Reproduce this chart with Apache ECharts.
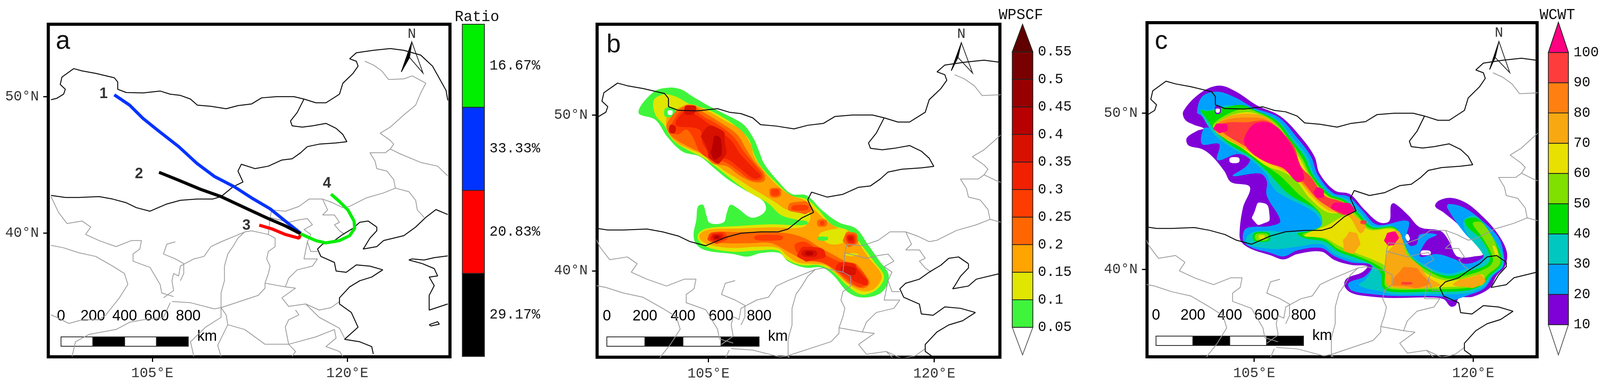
<!DOCTYPE html>
<html>
<head>
<meta charset="utf-8">
<title>Ratio WPSCF WCWT</title>
<script src="https://cdn.jsdelivr.net/npm/echarts@6/dist/echarts.min.js"></script>
<style>
  html, body { margin: 0; background: #fff; overflow: hidden; }
  #chart { width: 100vw; height: 100vh; }
</style>
</head>
<body>
<div id="chart"></div>
<script>
// ---- base map, lon/lat ----
const borderLines = [
  [[97.21,49.77],[97.66,49.88],[98.18,50.18],[98.31,50.54],[97.92,50.89],[98.05,51.43],[98.96,52.05],[99.61,51.88],[100.65,51.70],[102.08,51.38],[102.34,51.07],[102.34,50.54],[103.0,50.30],[104.30,50.27],[105.60,50.41],[106.38,50.18],[107.16,50.09],[107.94,49.82],[108.46,49.38],[109.51,49.29],[110.68,49.11],[111.59,49.34],[112.63,49.46],[113.41,49.91],[114.58,50.0],[115.89,50.0],[116.67,49.82],[117.58,49.55],[118.36,49.55],[119.40,50.18],[119.66,50.98],[120.44,51.70],[120.83,52.23],[120.70,52.59],[120.18,52.77],[120.70,53.21],[122.0,53.39],[123.31,53.52],[124.35,53.39],[125.65,53.04],[126.56,52.23],[127.08,51.34],[127.6,50.45],[127.73,49.73]],
  [[116.67,49.82],[116.15,48.84],[115.63,48.21],[115.76,47.86],[116.54,47.77],[117.32,47.86],[118.36,48.04],[119.14,47.68],[119.66,47.23],[119.97,46.70],[119.14,46.61],[117.84,46.52],[116.93,46.34],[116.41,45.89],[115.76,45.45],[114.97,45.36],[113.93,44.91],[112.89,44.73],[111.85,45.05],[111.59,44.55],[111.98,43.75],[111.2,43.39],[110.29,42.68],[109.64,42.50],[108.46,42.50],[107.16,42.41],[106.12,42.14],[104.82,41.61],[103.78,41.87],[103.0,42.23],[101.95,42.50],[100.91,42.68],[99.35,42.62],[98.31,42.62],[97.21,42.77]],
  [[122.27,40.45],[121.61,40.89],[120.96,40.80],[120.44,40.36],[119.66,39.91],[119.01,39.46],[118.10,39.20],[117.71,38.84],[117.97,38.30],[119.01,37.86],[119.14,37.23],[119.92,37.14],[120.70,37.68],[121.74,37.59],[122.73,37.32],[121.88,36.79],[120.96,36.52],[120.18,36.07],[119.40,35.27],[119.40,34.82],[120.31,34.20],[120.83,33.12],[119.79,32.23],[120.96,32.05],[121.88,31.70],[122.0,31.16]],
  [[122.27,40.45],[122.27,40.18],[121.74,39.64],[121.35,39.02],[121.22,38.84],[122.27,39.02],[122.79,39.46],[124.35,39.82],[125.26,40.45],[126.04,41.16],[126.82,41.73],[127.73,41.37]],
  [[127.73,38.34],[126.69,38.21],[125.91,38.04],[125.0,38.12],[124.74,38.04],[125.78,37.77],[126.69,37.41],[126.95,36.87],[126.30,36.79],[126.69,36.16],[126.30,35.45],[126.30,34.37],[127.73,34.82]],
  [[126.30,33.30],[126.95,33.52],[127.08,33.34],[126.43,33.21],[126.30,33.30]]
];
const provinceLines = [
  [[121.35,52.59],[122.0,52.32],[122.66,51.88],[123.18,51.25],[124.35,51.30],[125.0,51.52],[126.04,50.98],[125.65,50.27],[125.26,49.38],[124.35,48.66],[123.31,47.77],[122.53,47.32],[123.31,46.79],[123.57,46.52],[123.31,46.16],[122.92,45.89],[121.74,45.89],[122.14,45.27],[122.27,44.73],[123.05,44.55],[123.57,43.93],[123.70,43.30],[122.79,42.95],[121.48,42.59],[120.18,41.96],[119.66,41.87],[118.88,42.23],[118.10,42.50],[117.06,42.50],[116.28,41.96],[115.23,41.61],[114.19,41.70]],
  [[123.31,46.16],[124.09,45.80],[125.65,45.18],[126.95,44.91],[127.73,44.20]],
  [[123.70,43.30],[124.74,43.04],[125.26,42.41],[125.39,41.70],[125.91,41.16]],
  [[118.10,42.50],[118.49,41.70],[118.10,41.34],[119.01,41.34],[119.40,40.80],[119.01,40.62],[119.40,40.18],[119.79,39.91]],
  [[114.19,41.70],[114.06,41.16],[115.49,40.80],[116.28,40.98],[116.93,41.07],[117.32,40.62],[116.67,40.27],[117.19,39.91],[116.93,39.37],[117.19,38.66],[117.71,38.66]],
  [[116.93,39.37],[116.67,38.12],[117.71,38.12],[117.32,37.59],[116.15,37.32],[115.49,36.70],[115.23,36.07]],
  [[114.06,41.16],[113.93,39.91],[114.45,39.64],[114.45,39.02],[113.93,38.66],[113.80,38.12],[114.06,37.59],[113.93,37.05],[113.67,36.34]],
  [[113.67,36.34],[115.23,36.07],[116.02,35.98],[114.97,35.27],[115.49,34.64],[116.80,34.82],[117.84,34.37],[118.75,34.55],[119.40,35.0]],
  [[113.67,36.34],[113.67,35.98],[113.15,35.45],[110.29,34.55]],
  [[113.93,39.91],[112.63,40.18],[112.11,40.09],[111.59,39.64],[111.20,39.02],[110.81,38.48],[110.55,37.59],[110.55,36.52],[110.29,35.62],[110.29,34.55],[110.68,34.02],[110.81,33.30],[112.11,32.95],[113.67,31.87],[115.49,31.87],[116.02,31.34],[115.76,30.98]],
  [[112.11,40.09],[110.29,39.37],[109.51,39.02],[108.98,38.30],[108.20,38.12],[107.16,37.59],[107.03,36.87],[106.64,37.05],[106.51,36.52],[106.64,35.80],[105.86,35.27]],
  [[106.77,39.37],[106.12,39.20],[105.86,38.48],[106.77,38.12],[107.42,37.77],[107.42,37.05],[107.16,36.52]],
  [[97.21,42.68],[97.79,41.52],[98.44,40.71],[99.61,40.89],[100.26,40.45],[99.87,39.91],[100.91,39.46],[102.21,39.02],[103.39,39.46],[104.17,39.46],[104.04,38.84],[103.52,38.48],[103.52,37.95],[104.82,37.5],[105.60,36.25],[105.73,35.62],[106.64,35.36]],
  [[97.21,39.11],[98.18,38.93],[99.35,38.57],[100.65,38.30],[101.95,37.59],[102.86,37.05],[103.12,36.25],[102.47,35.27],[101.43,34.02],[100.91,33.66],[99.61,33.66],[98.57,33.39],[97.66,33.84],[97.21,34.02]],
  [[106.38,34.91],[105.86,33.84],[104.30,33.66],[103.26,33.48],[102.21,32.95],[100.13,32.59],[99.09,32.05],[98.83,30.98]],
  [[106.51,35.0],[107.94,34.91],[109.77,34.46],[110.29,34.55],[110.29,33.84],[109.11,33.13],[107.94,32.05],[108.20,30.98]],
  [[115.49,31.87],[115.23,33.13],[115.49,33.66],[116.28,34.02],[116.02,34.38]],
  [[116.80,34.82],[117.84,33.84],[119.40,33.04],[119.79,32.32]],
  [[110.81,33.30],[110.03,31.79],[110.29,30.98]],
  [[115.49,31.87],[117.58,32.41],[119.01,32.95],[119.14,32.32],[118.36,31.70],[119.40,31.34],[119.66,30.98]]
];

// ---- panel a ----
const track1 = [[102.08,50.13],[103.25,49.38],[104.30,48.39],[105.47,47.50],[107.03,46.34],[108.46,45.09],[109.77,44.16],[111.33,43.39],[112.63,42.59],[114.06,41.79],[115.23,40.89],[116.41,40.0]];
const track2 = [[105.52,44.46],[106.90,43.93],[108.72,43.21],[110.29,42.68],[112.11,41.87],[113.93,41.07],[115.23,40.54],[116.41,39.96]];
const track3 = [[113.23,40.59],[114.19,40.32],[115.23,39.91],[116.28,39.64],[116.41,39.91]];
const track4 = [[118.75,42.86],[119.40,42.32],[120.05,41.70],[120.52,40.89],[120.57,40.36],[120.18,39.82],[119.40,39.46],[118.36,39.29],[117.58,39.46],[116.93,39.73],[116.41,39.96]];
const trackLabels = [[101.25,50.18,'1'],[103.98,44.32,'2'],[112.24,40.54,'3'],[118.44,43.63,'4']];
const ratioLabels = ['29.17%','20.83%','33.33%','16.67%'];
const ratioColors = ['#000000','#ff0000','#0033ff','#00ee00'];

// ---- panel b, WPSCF filled contours, lon/lat ----
const wpscfTicks = [0.05,0.1,0.15,0.2,0.25,0.3,0.35,0.4,0.45,0.5,0.55];
const wpscfColors = ['#ffffff','#3ff53c','#e0e600','#ffa400','#ff6600','#ff3c00','#f02000','#d81000','#b80000','#980000','#780000','#600000'];
const w05 = [[[100.35,50.16],[101.36,51.49],[102.38,51.76],[103.17,51.65],[103.96,51.18],[105.09,50.55],[106.22,50.0],[107.35,49.37],[108.03,48.43],[108.37,47.65],[108.70,46.87],[109.61,45.77],[110.51,44.94],[111.53,44.83],[112.54,43.89],[113.67,43.10],[114.80,42.71],[115.59,41.69],[116.38,40.60],[116.95,39.81],[116.84,39.03],[116.27,38.48],[115.14,38.29],[114.24,38.64],[113.34,39.66],[112.54,40.20],[111.42,40.20],[110.29,40.60],[109.72,41.14],[108.48,41.14],[107.58,40.91],[106.67,41.07],[104.86,41.30],[104.19,41.69],[104.01,42.32],[104.19,43.26],[104.30,44.12],[104.64,44.23],[104.86,43.57],[105.09,43.07],[105.99,43.10],[106.22,43.73],[106.45,44.23],[106.90,44.04],[107.80,43.42],[108.48,43.57],[108.82,43.97],[108.59,44.51],[107.35,45.22],[106.22,45.92],[105.32,46.63],[104.41,47.34],[103.28,47.65],[102.27,48.59],[101.48,49.69]]];
const w10 = [[[101.36,50.94],[102.04,51.33],[102.83,51.18],[103.74,50.71],[104.86,50.39],[105.99,49.84],[106.90,49.22],[107.69,48.43],[108.03,47.49],[108.48,46.71],[109.38,45.77],[110.51,44.83],[111.53,44.59],[112.32,43.89],[113.22,42.95],[114.35,42.55],[115.26,41.54],[116.05,40.52],[116.61,39.81],[116.61,39.34],[116.05,38.71],[115.14,38.48],[114.24,39.03],[113.22,39.97],[112.32,40.36],[111.19,40.36],[110.17,40.75],[109.61,41.30],[108.25,41.30],[106.67,41.22],[105.09,41.46],[104.41,41.85],[104.30,42.32],[104.86,42.71],[106.90,42.87],[109.16,42.98],[111.19,42.95],[111.53,43.18],[110.96,43.26],[109.83,43.57],[108.93,44.36],[107.80,44.98],[106.67,45.77],[105.66,46.55],[104.64,47.26],[103.51,47.81],[102.61,48.43],[102.04,49.37],[101.48,50.0]]];
const w15 = [[[102.27,50.0],[103.06,50.47],[103.74,50.71],[104.86,50.31],[105.99,49.69],[107.12,49.06],[107.80,48.12],[108.03,47.34],[108.70,46.39],[109.61,45.45],[110.51,44.83],[111.42,44.51],[112.09,43.89],[112.77,43.26],[113.67,42.71],[114.35,42.55],[115.14,41.54],[115.71,40.75],[116.38,39.97],[116.5,39.5],[115.93,38.79],[115.14,38.71],[114.24,39.19],[113.22,40.05],[112.77,40.36],[111.87,40.44],[110.96,40.52],[110.29,40.91],[109.61,41.46],[108.25,41.54],[106.67,41.46],[105.32,41.61],[104.53,41.93],[104.41,42.32],[104.98,42.63],[106.90,42.71],[109.16,42.79],[111.19,42.79],[111.75,43.26],[111.64,43.73],[110.29,43.89],[109.38,44.44],[108.03,45.22],[106.90,45.92],[105.99,46.47],[104.86,47.34],[103.74,47.81],[102.83,48.28],[102.27,49.06]]];
const w15Gaps = [[[112.54,42.48],[113.67,42.71],[114.24,42.55],[114.01,41.85],[113.22,41.69],[112.66,41.93],[112.32,42.24]],[[114.13,41.07],[114.92,41.10],[114.80,40.99],[114.24,40.96]]];
const w15Spots = [[[112.27,42.08],[112.54,42.2],[112.95,42.08],[112.54,41.93]],[[110.74,43.10],[111.53,43.15],[111.53,42.99],[110.74,42.99]],[[102.05,50.19],[102.45,50.5],[102.8,50.19],[102.38,49.85]]];
const wHoles = [[[102.45,50.3],[102.62,50.19],[102.45,50.0],[102.28,50.19]]];
const w20 = [[[102.38,49.69],[103.06,50.39],[103.85,50.63],[104.75,50.13],[105.77,49.53],[106.90,48.75],[107.46,47.88],[108.03,47.02],[108.70,46.24],[108.70,45.77],[108.03,45.69],[107.12,46.08],[106.22,46.71],[105.32,46.87],[104.64,47.49],[103.51,48.04],[102.61,48.59],[102.20,49.22]],[[109.04,45.06],[109.43,45.33],[109.83,45.06],[109.43,44.70]],[[110.29,44.08],[111.08,44.44],[111.75,44.20],[111.75,43.81],[110.96,43.73]],[[112.21,43.07],[112.54,43.31],[112.88,43.07],[112.54,42.82]],[[104.98,42.24],[105.32,42.48],[106.90,42.48],[108.70,42.48],[110.29,42.40],[111.42,42.08],[112.32,41.54],[113.22,41.07],[114.13,40.60],[114.80,40.44],[115.48,39.66],[115.71,39.19],[115.26,38.87],[114.35,39.19],[113.45,39.97],[112.54,40.52],[111.42,40.67],[110.29,41.22],[109.16,41.77],[107.80,41.77],[105.99,41.77],[105.09,41.93]],[[114.01,42.16],[114.46,42.48],[114.92,42.08],[114.58,41.61],[114.13,41.69]]];
const w25 = [[[102.61,49.53],[103.06,50.16],[103.85,50.47],[104.64,49.92],[105.66,49.37],[106.67,48.59],[107.35,47.65],[108.03,46.87],[108.59,46.16],[108.48,45.85],[107.80,45.85],[106.90,46.47],[105.99,47.02],[105.09,47.18],[104.41,47.65],[103.96,48.59],[103.51,49.06],[102.94,48.75],[102.38,49.06]],[[104.98,42.16],[105.54,42.48],[106.22,42.24],[105.88,41.85],[105.2,41.85]],[[108.03,42.13],[108.93,42.32],[109.95,42.13],[108.93,41.93]],[[110.74,41.69],[111.42,41.85],[112.54,41.14],[113.67,40.60],[114.80,40.28],[115.59,39.34],[115.14,38.95],[114.35,39.34],[113.45,40.05],[112.54,40.52],[111.42,40.75],[110.85,41.22]],[[114.13,42.08],[114.46,42.35],[114.80,42.08],[114.53,41.72]],[[109.15,45.06],[109.43,45.25],[109.7,45.06],[109.43,44.8]],[[110.51,44.04],[111.19,44.23],[111.64,44.04],[111.08,43.86]],[[112.4,43.07],[112.54,43.2],[112.7,43.07],[112.54,42.92]]];
const w30 = [[[102.83,49.37],[103.51,50.31],[104.19,50.0],[105.32,49.22],[106.45,48.43],[107.12,47.49],[108.03,46.55],[108.48,46.08],[108.03,45.92],[107.12,46.55],[106.22,47.18],[105.54,47.18],[104.64,48.12],[104.41,49.06]],[[105.14,42.16],[105.54,42.40],[106.04,42.19],[105.72,41.93],[105.27,41.93]],[[110.96,41.14],[111.69,41.54],[112.77,41.07],[111.87,40.67],[111.19,40.75]],[[113.45,40.13],[114.35,40.52],[115.14,39.81],[115.59,39.19],[115.03,39.19],[114.24,39.66]],[[114.2,42.08],[114.46,42.3],[114.7,42.08],[114.53,41.78]]];
const w35 = [[[103.40,50.39],[103.74,50.63],[104.19,50.39],[103.62,50.0]],[[102.38,49.14],[102.61,49.37],[102.83,49.06],[102.56,48.82]],[[104.64,48.90],[105.66,49.14],[106.11,48.12],[105.95,47.18],[105.32,47.02],[104.86,47.96]],[[105.27,42.16],[105.54,42.32],[105.88,42.16],[105.54,41.98]],[[111.19,41.11],[111.69,41.35],[112.21,41.10],[111.69,40.88]],[[113.79,40.13],[114.35,40.28],[114.80,39.97],[114.35,39.73]],[[114.3,42.08],[114.46,42.2],[114.6,42.08],[114.46,41.92]]];
const w40 = [[[105.25,47.96],[105.54,48.67],[105.88,47.81],[105.54,47.18],[105.25,47.34]],[[105.4,42.16],[105.54,42.26],[105.72,42.16],[105.54,42.05]],[[111.42,41.11],[111.69,41.25],[111.95,41.11],[111.69,40.98]]];
// [colour index, polygons], painted in this order
const wpscfSteps = [[1,w05],[2,w10],[3,w15],[2,w15Gaps],[1,w15Spots],[0,wHoles],[4,w20],[5,w25],[6,w30],[7,w35],[8,w40]];

// ---- panel c, WCWT filled contours, lon/lat ----
const wcwtTicks = [10,20,30,40,50,60,70,80,90,100];
const wcwtColors = ['#ffffff','#8000d8','#00a0ff','#00c8c0','#00dc00','#80e000','#e8e000','#f8a810','#ff8010','#ff3c3c','#ff0080'];
const c10 = [[[100.15,50.13],[101.32,51.30],[102.60,51.77],[103.76,51.38],[105.16,50.52],[106.79,49.81],[108.19,48.48],[109.13,47.23],[109.48,46.14],[110.52,45.05],[111.57,44.81],[112.51,43.87],[113.55,43.02],[114.25,43.09],[114.37,44.11],[114.60,44.23],[115.54,43.48],[116.35,42.70],[117.75,42.47],[118.33,41.84],[118.80,40.91],[119.27,40.75],[120.08,40.83],[120.66,40.98],[119.15,42.70],[117.98,43.64],[117.40,44.03],[117.63,44.39],[118.45,44.58],[119.50,44.27],[120.55,43.48],[121.60,42.39],[122.30,41.14],[122.18,40.20],[121.60,39.58],[121.13,38.80],[119.97,38.25],[119.03,38.17],[118.80,37.70],[118.45,37.62],[117.98,38.09],[117.05,38.20],[114.49,38.17],[113.09,38.25],[111.69,38.48],[111.18,38.95],[111.34,39.42],[112.39,39.81],[112.74,40.20],[111.69,40.28],[110.52,40.59],[109.59,41.14],[107.96,40.98],[107.03,40.64],[106.10,40.91],[104.81,41.30],[104.11,41.77],[104.0,42.39],[104.23,43.95],[104.70,45.28],[103.41,45.59],[102.95,46.30],[102.13,47.23],[101.43,47.70],[100.50,47.94],[100.38,48.41],[101.08,48.87],[101.55,49.03],[100.85,49.27],[100.27,49.58]]];
const c20 = [[[101.08,50.05],[101.43,51.06],[102.48,51.38],[103.76,50.98],[104.93,50.36],[106.68,49.73],[107.96,48.41],[108.89,47.23],[109.36,46.06],[110.41,44.89],[111.46,44.66],[112.39,43.80],[113.44,42.86],[115.54,43.09],[115.42,42.0],[115.65,41.53],[116.12,41.61],[116.35,42.23],[117.52,42.23],[116.82,41.84],[116.35,40.83],[117.52,40.98],[118.68,40.67],[119.50,40.36],[120.55,40.67],[120.78,41.14],[119.50,42.23],[118.22,43.95],[118.33,44.19],[119.38,43.95],[120.55,43.17],[121.71,42.08],[122.06,41.14],[122.06,40.20],[121.36,39.58],[120.78,38.80],[119.62,38.33],[118.45,38.02],[117.98,38.25],[114.49,38.30],[113.09,38.41],[111.69,38.64],[111.46,39.11],[112.62,39.58],[113.09,40.28],[111.69,40.44],[110.52,40.83],[109.59,41.37],[107.96,41.22],[107.03,40.83],[106.10,41.06],[104.70,41.45],[104.23,41.92],[104.46,42.62],[106.10,42.78],[106.79,43.09],[105.86,44.73],[105.86,45.67],[105.40,46.14],[103.53,45.98],[104.46,46.61],[104.70,47.08],[103.88,47.39],[102.48,47.0],[102.60,48.02],[101.43,48.02],[101.55,49.03],[102.13,49.11],[101.32,49.89]]];
const c30 = [[[101.32,50.20],[101.90,50.20],[103.30,50.52],[104.93,50.20],[106.56,49.58],[107.73,48.33],[108.66,47.23],[109.13,46.06],[110.29,44.81],[111.34,44.50],[112.27,43.64],[113.21,42.78],[114.49,42.78],[115.07,42.0],[115.54,41.14],[116.82,40.20],[118.22,39.73],[119.38,39.97],[120.66,40.44],[120.66,40.98],[119.50,42.39],[119.38,43.17],[120.20,43.41],[121.25,42.23],[121.95,41.14],[122.02,40.20],[121.25,39.58],[120.78,38.95],[119.62,38.48],[116.59,38.41],[114.49,38.41],[113.44,38.64],[112.62,38.80],[112.16,39.03],[112.62,39.34],[113.09,40.20],[111.69,40.59],[110.52,40.98],[109.59,41.61],[107.96,41.45],[106.56,41.30],[105.63,41.37],[104.58,41.61],[104.46,42.0],[104.93,42.39],[106.10,42.47],[107.03,42.39],[108.66,42.47],[109.59,42.86],[109.13,43.64],[106.68,44.89],[106.10,45.52],[105.86,46.06],[104.70,47.08],[103.07,48.02],[102.13,48.80]]];
const c40 = [[[101.32,50.20],[101.78,50.13],[103.30,50.44],[104.23,50.52],[105.05,50.20],[106.56,49.50],[107.61,48.25],[108.43,47.23],[109.01,46.06],[110.17,44.81],[111.22,44.42],[112.16,43.56],[113.09,42.70],[114.60,42.70],[115.19,41.84],[115.65,40.91],[116.82,40.05],[118.22,39.58],[119.38,39.81],[120.90,40.28],[121.13,40.83],[120.55,41.92],[119.62,42.70],[119.43,43.17],[120.31,43.25],[121.25,42.16],[121.83,41.14],[121.90,40.28],[121.13,39.58],[120.66,39.03],[119.50,38.64],[116.59,38.56],[114.49,38.56],[113.83,38.80],[113.67,39.73],[113.09,40.28],[111.92,40.75],[110.76,41.14],[109.83,41.77],[108.43,42.0],[107.96,42.31],[108.89,42.47],[109.71,42.94],[109.24,43.80],[107.49,44.73],[106.45,45.67],[105.86,46.30],[104.70,47.23],[103.30,48.02],[102.37,48.80],[102.02,49.27],[101.67,49.73]],[[104.9,42.08],[105.51,42.4],[106.1,42.08],[105.51,41.75]]];
const c50 = [[[102.18,49.27],[103.07,49.89],[104.23,50.28],[105.05,50.13],[106.45,49.42],[107.49,48.17],[108.31,47.08],[108.89,45.98],[110.06,44.73],[111.11,44.34],[112.04,43.48],[112.97,42.63],[114.60,42.63],[115.19,41.77],[115.77,40.75],[116.93,39.89],[118.22,39.42],[119.38,39.58],[121.01,40.13],[121.36,40.67],[120.66,42.0],[119.97,42.94],[120.55,43.02],[121.36,42.0],[121.71,41.14],[121.83,40.36],[121.01,39.66],[120.55,39.11],[119.50,38.80],[116.59,38.72],[114.49,38.72],[113.97,38.95],[113.90,39.89],[113.09,40.44],[111.92,40.91],[110.76,41.30],[109.83,41.92],[108.43,42.16],[108.31,42.23],[109.59,42.78],[109.48,43.64],[107.96,44.89],[106.79,45.98],[105.86,46.61],[104.70,47.47],[103.30,48.33],[102.37,48.88]],[[105.05,42.08],[105.51,42.31],[105.98,42.08],[105.51,41.84]]];
const c60 = [[[102.25,49.19],[103.07,49.73],[104.23,50.05],[105.16,49.97],[106.33,49.34],[107.38,48.09],[108.19,47.0],[108.78,45.98],[109.94,44.73],[110.99,44.27],[111.92,43.41],[112.86,42.55],[114.60,42.55],[115.07,41.61],[115.54,40.75],[116.82,39.73],[118.22,39.27],[119.38,39.42],[120.66,39.66],[120.66,39.03],[119.38,38.92],[116.59,38.83],[114.49,38.83],[114.14,39.11],[114.14,40.05],[113.21,40.59],[111.92,41.06],[110.76,41.53],[109.83,42.0],[108.43,42.16],[110.06,42.86],[110.76,43.25],[111.46,43.64],[110.06,43.64],[108.78,44.58],[107.96,45.59],[107.03,46.22],[105.86,46.61],[104.93,47.23],[104.0,47.86],[103.07,48.33],[102.25,49.03]],[[121.36,41.53],[121.67,41.14],[121.60,40.83],[121.43,41.14]],[[105.3,42.08],[105.51,42.2],[105.72,42.08],[105.51,41.95]]];
const c70 = [[[102.37,49.27],[103.30,49.81],[104.46,49.97],[105.63,49.81],[106.56,49.11],[107.26,47.86],[107.96,46.84],[108.66,45.83],[109.83,44.58],[110.76,44.11],[111.81,43.48],[112.62,42.78],[112.27,42.31],[111.46,43.41],[110.06,43.80],[108.89,44.73],[107.96,45.75],[106.79,46.45],[105.86,46.84],[104.81,47.47],[103.76,48.02],[102.83,48.48],[102.25,48.95]],[[111.34,42.16],[111.69,42.39],[112.16,42.0],[112.04,41.30],[111.46,41.06],[111.11,41.61]],[[114.14,42.23],[114.84,42.47],[115.19,41.84],[115.42,40.98],[116.35,40.20],[116.82,39.58],[117.75,38.95],[114.25,38.92],[113.97,40.05],[114.14,41.14],[114.49,41.53]],[[118.68,39.11],[119.85,39.50],[120.6,39.58],[120.6,39.03],[118.92,38.92]]];
const c80 = [[[102.48,49.27],[103.07,49.58],[104.46,49.73],[105.86,49.58],[106.79,48.80],[107.49,47.70],[108.19,46.61],[108.89,45.83],[109.94,44.50],[110.99,44.03],[111.69,43.64],[111.46,43.48],[110.29,43.95],[109.13,44.73],[108.19,45.59],[106.79,46.61],[105.86,46.92],[104.81,47.63],[103.76,48.25],[102.83,48.72]],[[114.49,39.03],[114.84,39.73],[115.65,40.13],[116.59,39.58],[116.82,38.98],[114.72,38.95]]];
const c90 = [[[102.60,49.19],[103.30,49.42],[104.46,49.42],[105.86,49.50],[106.79,48.88],[107.73,47.86],[108.19,46.61],[108.89,45.91],[109.83,44.73],[110.99,44.34],[111.81,43.88],[111.22,43.48],[110.29,43.88],[109.24,44.58],[108.43,45.52],[107.49,46.38],[106.10,46.84],[105.16,47.47],[104.0,48.09],[103.07,48.64]],[[112.27,43.02],[112.51,43.14],[112.69,43.02],[112.51,42.89]],[[115.07,39.11],[115.42,39.19],[115.84,39.11],[115.42,39.02]]];
const c100 = [[[104.35,48.48],[104.93,49.27],[105.86,49.42],[106.68,49.03],[107.49,48.02],[107.96,47.08],[108.43,45.83],[107.96,45.59],[107.03,46.45],[106.10,46.77],[105.40,47.08],[104.81,47.47],[104.35,48.02]],[[102.25,49.11],[102.72,49.34],[103.18,49.11],[102.83,48.77],[102.37,48.88]],[[109.13,45.05],[109.48,45.23],[109.78,44.81],[109.48,44.58],[109.13,44.81]],[[110.29,44.03],[110.99,44.27],[111.81,43.95],[111.57,43.56],[110.76,43.72]],[[113.97,42.0],[114.37,42.39],[114.84,42.16],[114.72,41.77],[114.37,41.53],[114.02,41.69]]];
const cRing = [[[102.3,50.2],[102.5,50.5],[102.72,50.2],[102.5,49.95]]];
const cHoles = [[[105.0,43.64],[105.51,44.27],[106.05,43.48],[105.63,42.94],[105.0,43.09]],[[103.30,47.0],[103.65,47.19],[104.0,47.0],[103.65,46.80]],[[116.40,41.06],[116.70,41.22],[117.10,41.06],[116.70,40.91]],[[115.42,42.23],[115.6,42.16],[115.6,41.84],[115.42,41.92]],[[102.5,50.3],[102.65,50.2],[102.5,50.03],[102.35,50.2]]];
const wcwtSteps = [[1,c10],[2,c20],[3,c30],[4,c40],[5,c50],[6,c60],[7,c70],[8,c80],[9,c90],[10,c100],[1,cRing],[0,cHoles]];

// ---- shared labels ----
const lonTicks = [105,120];
const latTicks = [40,50];
const scaleKm = [0,200,400,600,800];

const monoFont = '"Liberation Mono", monospace';
const sansFont = '"Liberation Sans", sans-serif';

// layout numbers are for the 4274 wide figure; the window can come up narrower
const sx = window.innerWidth / 4274;

// frames in page pixels, extents
const panels = [
  {left:129, right:1202, top:62, bottom:913, lon:[97,127.9], lat:[30.95,55.3]},
  {left:1595, right:2671, top:62, bottom:914, lon:[97.6,124.36], lat:[34.45,55.83]},
  {left:3064, right:4106, top:58, bottom:913, lon:[97.66,124.38], lat:[34.4,55.8]}
];

function gridOf(box) {
  return {left:box.left*sx, top:box.top, width:(box.right-box.left)*sx, height:box.bottom-box.top,
    show:true, backgroundColor:'transparent', borderColor:'#000', borderWidth:8, containLabel:false};
}

function axisOf(kind, range, ticks, gridIndex, fmt) {
  return {
    type:'value', gridIndex, min:range[0], max:range[1], splitLine:{show:false},
    axisLine:{show:false},
    axisTick:{show:true, length:13, customValues:ticks, lineStyle:{color:'#000', width:3}},
    axisLabel:{show:true, customValues:ticks, margin:24, color:'#333', fontFamily:monoFont, fontSize:36, formatter:fmt}
  };
}

function flatten(lines) {
  const out = [];
  lines.forEach(l => { l.forEach(p => out.push(p)); out.push(['-','-']); });
  return out;
}

function baseMapSeries(i) {
  return [
    {type:'line', xAxisIndex:i, yAxisIndex:i, data:flatten(provinceLines), symbol:'none', silent:true,
      lineStyle:{color:'#999999', width:2}},
    {type:'line', xAxisIndex:i, yAxisIndex:i, data:flatten(borderLines), symbol:'none', silent:true,
      lineStyle:{color:'#111', width:2.5}}
  ];
}

function contourSeries(i, steps, colors) {
  const shapes = [];
  steps.forEach(s => s[1].forEach(pts => shapes.push({c:colors[s[0]], pts})));
  return {
    type:'custom', xAxisIndex:i, yAxisIndex:i, silent:true, animation:false,
    data:shapes.map(s => s.pts[0]),
    renderItem(params, api) {
      const s = shapes[params.dataIndex];
      return {
        type:'polygon',
        shape:{points:s.pts.map(p => api.coord(p)), smooth:s.pts.length <= 6 ? 0.8 : 0.35},
        style:{fill:s.c}
      };
    }
  };
}

// colour bar with optional triangles at both ends
function barSeries(idx, ticks, colors, lo, hi) {
  const rows = colors.map((c, k) => [k === 0 ? lo : ticks[k-1], k === ticks.length ? hi : ticks[k], k]);
  return {
    type:'custom', xAxisIndex:idx, yAxisIndex:idx, silent:true,
    data:rows,
    renderItem(params, api) {
      const r = rows[params.dataIndex];
      const a = api.coord([0,r[0]]), b = api.coord([1,r[1]]);
      let pts = [[a[0],a[1]],[b[0],a[1]],[b[0],b[1]],[a[0],b[1]]];
      if (r[2] === 0) pts = [[a[0],b[1]],[b[0],b[1]],[(a[0]+b[0])/2,a[1]]];
      if (r[2] === ticks.length) pts = [[a[0],a[1]],[b[0],a[1]],[(a[0]+b[0])/2,b[1]]];
      return {type:'polygon', shape:{points:pts},
        style:{fill:colors[r[2]], stroke:r[2] === 0 ? '#555' : '#222', lineWidth:2}};
    }
  };
}

const grids = panels.map(gridOf);
const xAxes = panels.map((p,i) => axisOf('x', p.lon, lonTicks, i, v => v + '°E'));
const yAxes = panels.map((p,i) => axisOf('y', p.lat, latTicks, i, v => v + '°N'));
const series = [];

// panel a
series.push(...baseMapSeries(0));
const trackColors = ['#0033ff','#000000','#ff0000','#00ee00'];
[track1,track2,track3,track4].forEach((t,k) => series.push({
  type:'line', xAxisIndex:0, yAxisIndex:0, data:t, symbol:'none', silent:true, z:3,
  lineStyle:{color:trackColors[k], width:8}
}));
series.push({
  type:'scatter', xAxisIndex:0, yAxisIndex:0, data:trackLabels, symbolSize:1, silent:true, z:4,
  itemStyle:{color:'transparent'},
  label:{show:true, position:'inside', formatter:p => p.value[2], color:'#000', fontFamily:sansFont, fontWeight:'bold', fontSize:38}
});

// panel b, c
series.push(contourSeries(1, wpscfSteps, wpscfColors));
series.push(...baseMapSeries(1));
series.push(contourSeries(2, wcwtSteps, wcwtColors));
series.push(...baseMapSeries(2));

// colour bars
function barAxes(box, yMin, yMax, values, fmt, pad, size) {
  grids.push({left:box[0]*sx, top:box[1], width:(box[2]-box[0])*sx, height:box[3]-box[1], show:false});
  const gi = grids.length - 1;
  xAxes.push({type:'value', gridIndex:gi, min:0, max:1, show:false});
  yAxes.push({
    type:'value', gridIndex:gi, min:yMin, max:yMax, position:'right', splitLine:{show:false},
    axisLine:{show:false}, axisTick:{show:false},
    axisLabel:{show:true, customValues:values, margin:13, color:'#111', fontFamily:monoFont, fontSize:size, padding:[pad,0,0,0], formatter:fmt}
  });
  return gi;
}
const ratioMid = [0.5,1.5,2.5,3.5];
let gi = barAxes([1235,62,1294,912], 0, 4, ratioMid, v => ratioLabels[Math.floor(v)], 0, 36);
series.push({
  type:'custom', xAxisIndex:gi, yAxisIndex:gi, silent:true, data:ratioColors.map((c,k) => [k,k+1]),
  renderItem(params, api) {
    const k = params.dataIndex;
    const a = api.coord([0,k]), b = api.coord([1,k+1]);
    return {type:'rect', shape:{x:a[0], y:b[1], width:b[0]-a[0], height:a[1]-b[1]},
      style:{fill:ratioColors[k], stroke:'#222', lineWidth:2}};
  }
});
gi = barAxes([2704,62,2759,908], 0, 0.6, wpscfTicks, v => String(+v.toFixed(2)), 16, 36);
series.push(barSeries(gi, wpscfTicks, wpscfColors, 0, 0.6));
gi = barAxes([4136,57,4190,908], 0, 110, wcwtTicks, v => String(v), 16, 36);
series.push(barSeries(gi, wcwtTicks, wcwtColors, 0, 110));

// annotations: panel letters, colour bar titles, north arrows, scale bars
const letters = [['a',168,107],['b',1639,116],['c',3102,107]];
const barTitles = [['Ratio',1274,44],['WPSCF',2727,39],['WCWT',4160,39]];
const arrows = [
  {n:[1100,87], tip:[1100,107], l:[1072,184], m:[1094,147], r:[1130,187]},
  {n:[2568,87], tip:[2568,109], l:[2541,181], m:[2559,147], r:[2598,187]},
  {n:[4004,84], tip:[4004,106], l:[3979,178], m:[3994,147], r:[4033,186]}
];
const scales = [
  {x:163, y:862, h:24, seg:85},
  {x:1621, y:862, h:24, seg:101.7},
  {x:3088, y:860, h:24, seg:98.5}
];
const pt = p => [p[0]*sx, p[1]];
const graphic = [];
letters.forEach(t => graphic.push({type:'text', x:t[1]*sx, y:t[2], silent:true,
  style:{text:t[0], fill:'#111', font:'66px ' + sansFont, align:'center', verticalAlign:'middle'}}));
barTitles.forEach(t => graphic.push({type:'text', x:t[1]*sx, y:t[2], silent:true,
  style:{text:t[0], fill:'#111', font:'38px ' + monoFont, align:'center', verticalAlign:'middle'}}));
arrows.forEach(a => {
  graphic.push({type:'text', x:a.n[0]*sx, y:a.n[1], silent:true,
    style:{text:'N', fill:'#333', font:'36px ' + monoFont, align:'center', verticalAlign:'middle'}});
  graphic.push({type:'polygon', silent:true, shape:{points:[pt(a.tip),pt(a.l),pt(a.m)]}, style:{fill:'#000', stroke:'#000', lineWidth:2}});
  graphic.push({type:'polygon', silent:true, shape:{points:[pt(a.tip),pt(a.r),pt(a.m)]}, style:{fill:'transparent', stroke:'#222', lineWidth:2}});
});
scales.forEach(s => {
  scaleKm.forEach((km,k) => {
    graphic.push({type:'text', x:(s.x + k*s.seg)*sx, y:s.y-52, silent:true,
      style:{text:String(km), fill:'#000', font:'38px ' + sansFont, align:'center', verticalAlign:'middle'}});
    if (k < 4) graphic.push({type:'rect', silent:true, shape:{x:(s.x + k*s.seg)*sx, y:s.y, width:s.seg*sx, height:s.h},
      style:{fill:k % 2 ? '#000' : '#fff', stroke:'#222', lineWidth:2}});
  });
  graphic.push({type:'text', x:(s.x + 4*s.seg + 50)*sx, y:s.y, silent:true,
    style:{text:'km', fill:'#000', font:'38px ' + sansFont, align:'center', verticalAlign:'middle'}});
});

const chart = echarts.init(document.getElementById('chart'));
chart.setOption({
  animation:false, backgroundColor:'#fff',
  grid:grids, xAxis:xAxes, yAxis:yAxes, series, graphic
});
</script>
</body>
</html>
